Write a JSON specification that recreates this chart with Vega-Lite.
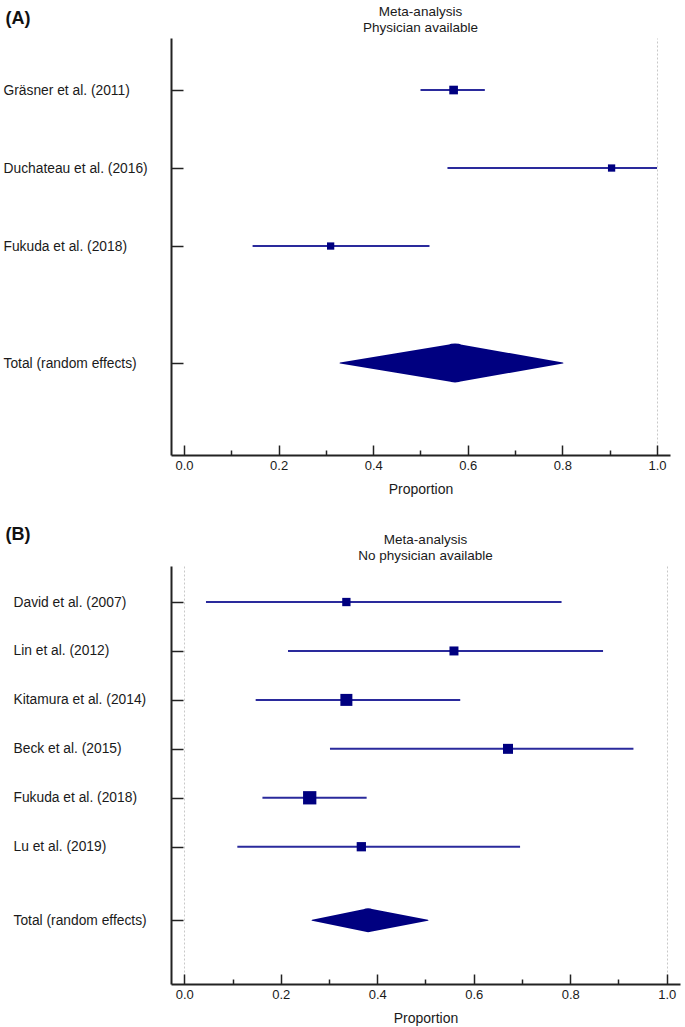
{
  "$schema": "https://vega.github.io/schema/vega-lite/v6.json",
  "padding": {"left": 3, "top": 4, "right": 5, "bottom": 5},
  "bounds": "flush",
  "spacing": 111,
  "config": {
    "view": {"stroke": null},
    "font": "Liberation Sans",
    "axis": {
      "domainColor": "#222222",
      "domainWidth": 2,
      "tickColor": "#222222",
      "tickWidth": 1.5,
      "labelColor": "#1a1a1a",
      "labelFont": "Liberation Sans",
      "labelFontSize": 13,
      "titleFont": "Liberation Sans",
      "titleFontSize": 14,
      "titleFontWeight": "normal",
      "titleColor": "#1a1a1a"
    },
    "title": {"font": "Liberation Sans", "fontSize": 13.5, "fontWeight": "normal", "color": "#1a1a1a"}
  },
  "datasets": {
    "studiesA": [
      {"study": "Gräsner et al. (2011)", "pos": 1, "est": 0.570, "lo": 0.500, "hi": 0.636, "weight": 41.4},
      {"study": "Duchateau et al. (2016)", "pos": 2, "est": 0.904, "lo": 0.557, "hi": 1.000, "weight": 29.3},
      {"study": "Fukuda et al. (2018)", "pos": 3, "est": 0.310, "lo": 0.145, "hi": 0.519, "weight": 29.3}
    ],
    "totalA": [
      {"study": "Total (random effects)", "pos": 4.5, "x": 0.330, "w": 0},
      {"study": "Total (random effects)", "pos": 4.5, "x": 0.573, "w": 1},
      {"study": "Total (random effects)", "pos": 4.5, "x": 0.801, "w": 0}
    ],
    "studiesB": [
      {"study": "David et al. (2007)", "pos": 1, "est": 0.336, "lo": 0.045, "hi": 0.782, "weight": 10.5},
      {"study": "Lin et al. (2012)", "pos": 2, "est": 0.559, "lo": 0.215, "hi": 0.868, "weight": 12.3},
      {"study": "Kitamura et al. (2014)", "pos": 3, "est": 0.336, "lo": 0.148, "hi": 0.572, "weight": 21.9},
      {"study": "Beck et al. (2015)", "pos": 4, "est": 0.671, "lo": 0.302, "hi": 0.931, "weight": 15.2},
      {"study": "Fukuda et al. (2018)", "pos": 5, "est": 0.260, "lo": 0.162, "hi": 0.378, "weight": 26.9},
      {"study": "Lu et al. (2019)", "pos": 6, "est": 0.367, "lo": 0.110, "hi": 0.696, "weight": 13.1}
    ],
    "totalB": [
      {"study": "Total (random effects)", "pos": 7.5, "x": 0.265, "w": 0},
      {"study": "Total (random effects)", "pos": 7.5, "x": 0.381, "w": 1},
      {"study": "Total (random effects)", "pos": 7.5, "x": 0.505, "w": 0}
    ]
  },
  "vconcat": [
    {
      "width": 499,
      "height": 417,
      "title": {"text": ["Meta-analysis", "Physician available"], "anchor": "middle", "frame": "group", "lineHeight": 16, "offset": -25},
      "resolve": {"scale": {"size": "independent"}},
      "layer": [
        {
          "data": {"name": "studiesA"},
          "mark": {"type": "rule", "color": "#2a2a9c", "strokeWidth": 2},
          "encoding": {
            "x": {
              "field": "lo", "type": "quantitative",
              "scale": {"domain": [-0.0275, 1.0275], "nice": false, "zero": false},
              "axis": {
                "title": "Proportion",
                "values": [0, 0.1, 0.2, 0.3, 0.4, 0.5, 0.6, 0.7, 0.8, 0.9, 1],
                "labelExpr": "round(datum.value*10) % 2 == 0 ? format(datum.value, '.1f') : ''",
                "tickSize": {"condition": {"test": "round(datum.value*10) % 2 == 0", "value": -10}, "value": -5},
                "labelPadding": 14,
                "labelFlush": false,
                "labelOverlap": false,
                "titlePadding": 5,
                "grid": true,
                "gridDash": [2, 2],
                "gridColor": "#c8c8c8",
                "gridWidth": 1,
                "gridOpacity": {"condition": {"test": "datum.value == 1", "value": 1}, "value": 0}
              }
            },
            "x2": {"field": "hi"},
            "y": {
              "field": "pos", "type": "quantitative",
              "scale": {"domain": [0.333, 5.679], "reverse": true, "nice": false, "zero": false},
              "axis": {
                "title": "(A)",
                "titleAngle": 0,
                "titleAlign": "left",
                "titleBaseline": "middle",
                "titleX": -166,
                "titleY": -20,
                "titleFontSize": 18,
                "titleFontWeight": "bold",
                "titleColor": "#111111",
                "values": [1, 2, 3, 4.5],
                "labelExpr": "datum.value == 1 ? 'Gräsner et al. (2011)' : datum.value == 2 ? 'Duchateau et al. (2016)' : datum.value == 3 ? 'Fukuda et al. (2018)' : 'Total (random effects)'",
                "labelAlign": "left",
                "labelBaseline": "middle",
                "labelPadding": 180,
                "labelFontSize": 13.8,
                "tickSize": -12,
                "grid": false
              }
            }
          }
        },
        {
          "data": {"name": "studiesA"},
          "mark": {"type": "point", "shape": "square", "filled": true, "color": "#000080", "opacity": 1},
          "encoding": {
            "x": {"field": "est", "type": "quantitative"},
            "y": {"field": "pos", "type": "quantitative"},
            "size": {"field": "weight", "type": "quantitative", "scale": {"domain": [0, 100], "range": [0, 181]}, "legend": null}
          }
        },
        {
          "data": {"name": "totalA"},
          "mark": {"type": "trail", "color": "#000080"},
          "encoding": {
            "x": {"field": "x", "type": "quantitative"},
            "y": {"field": "pos", "type": "quantitative"},
            "size": {"field": "w", "type": "quantitative", "scale": {"domain": [0, 1], "range": [0, 39]}, "legend": null}
          }
        }
      ]
    },
    {
      "width": 509,
      "height": 418,
      "title": {"text": ["Meta-analysis", "No physician available"], "anchor": "middle", "frame": "group", "lineHeight": 16, "offset": -37},
      "resolve": {"scale": {"size": "independent"}},
      "layer": [
        {
          "data": {"name": "studiesB"},
          "mark": {"type": "rule", "color": "#2a2a9c", "strokeWidth": 2},
          "encoding": {
            "x": {
              "field": "lo", "type": "quantitative",
              "scale": {"domain": [-0.0275, 1.0275], "nice": false, "zero": false},
              "axis": {
                "title": "Proportion",
                "values": [0, 0.1, 0.2, 0.3, 0.4, 0.5, 0.6, 0.7, 0.8, 0.9, 1],
                "labelExpr": "round(datum.value*10) % 2 == 0 ? format(datum.value, '.1f') : ''",
                "tickSize": {"condition": {"test": "round(datum.value*10) % 2 == 0", "value": -10}, "value": -5},
                "labelPadding": 14,
                "labelFlush": false,
                "labelOverlap": false,
                "titlePadding": 5,
                "grid": true,
                "gridDash": [2, 2],
                "gridColor": "#c8c8c8",
                "gridWidth": 1,
                "gridOpacity": {"condition": {"test": "datum.value == 0 || datum.value == 1", "value": 1}, "value": 0}
              }
            },
            "x2": {"field": "hi"},
            "y": {
              "field": "pos", "type": "quantitative",
              "scale": {"domain": [0.264, 8.805], "reverse": true, "nice": false, "zero": false},
              "axis": {
                "title": "(B)",
                "titleAngle": 0,
                "titleAlign": "left",
                "titleBaseline": "middle",
                "titleX": -166,
                "titleY": -32,
                "titleFontSize": 18,
                "titleFontWeight": "bold",
                "titleColor": "#111111",
                "values": [1, 2, 3, 4, 5, 6, 7.5],
                "labelExpr": "datum.value == 1 ? 'David et al. (2007)' : datum.value == 2 ? 'Lin et al. (2012)' : datum.value == 3 ? 'Kitamura et al. (2014)' : datum.value == 4 ? 'Beck et al. (2015)' : datum.value == 5 ? 'Fukuda et al. (2018)' : datum.value == 6 ? 'Lu et al. (2019)' : 'Total (random effects)'",
                "labelAlign": "left",
                "labelBaseline": "middle",
                "labelPadding": 170,
                "labelFontSize": 13.8,
                "tickSize": -12,
                "grid": false
              }
            }
          }
        },
        {
          "data": {"name": "studiesB"},
          "mark": {"type": "point", "shape": "square", "filled": true, "color": "#000080", "opacity": 1},
          "encoding": {
            "x": {"field": "est", "type": "quantitative"},
            "y": {"field": "pos", "type": "quantitative"},
            "size": {"field": "weight", "type": "quantitative", "scale": {"domain": [0, 100], "range": [0, 657]}, "legend": null}
          }
        },
        {
          "data": {"name": "totalB"},
          "mark": {"type": "trail", "color": "#000080"},
          "encoding": {
            "x": {"field": "x", "type": "quantitative"},
            "y": {"field": "pos", "type": "quantitative"},
            "size": {"field": "w", "type": "quantitative", "scale": {"domain": [0, 1], "range": [0, 24]}, "legend": null}
          }
        }
      ]
    }
  ]
}
